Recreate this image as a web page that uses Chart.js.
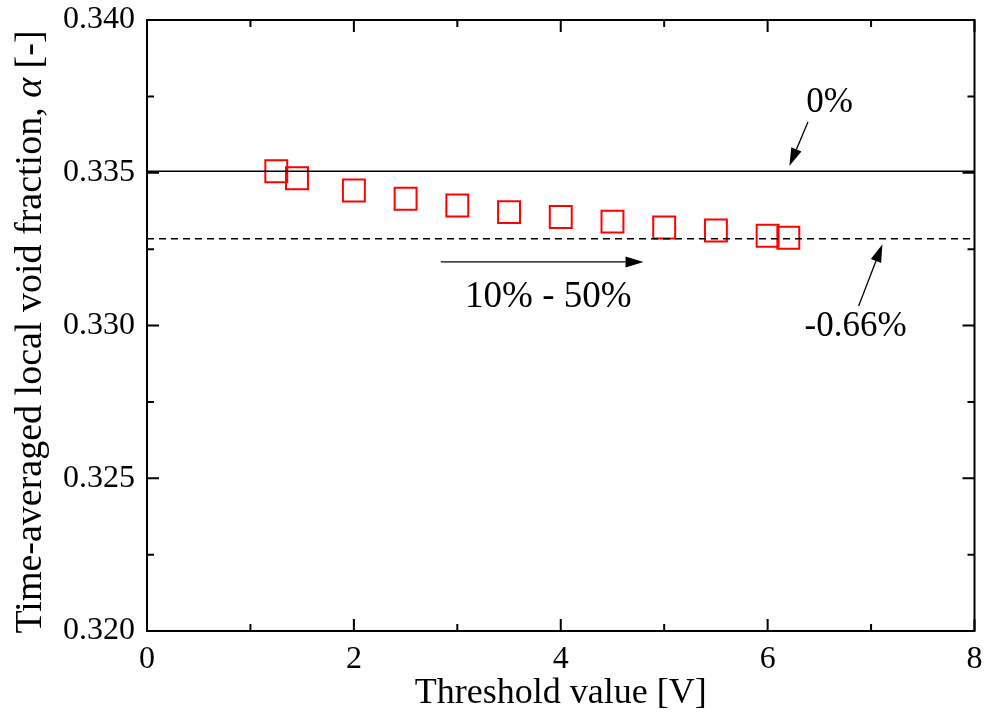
<!DOCTYPE html>
<html>
<head>
<meta charset="utf-8">
<script src="https://cdn.jsdelivr.net/npm/chart.js@4.4.1/dist/chart.umd.min.js"></script>
<style>
  body { margin: 0; background: #fff; }
  #wrap { width: 992px; height: 720px; }
</style>
</head>
<body>
<div id="wrap"><canvas id="myChart" width="992" height="720"></canvas></div>
<script>
// data
const thresholds = [1.25, 1.45, 2.0, 2.5, 3.0, 3.5, 4.0, 4.5, 5.0, 5.5, 6.0, 6.2];
const voidFraction = [0.33505, 0.33482, 0.33442, 0.33415, 0.33393, 0.33371, 0.33355, 0.33340, 0.33321, 0.33311, 0.33294, 0.33287];
const refValue = 0.33505;     // 0%
const lowValue = 0.33284;     // -0.66%
const xTicks = [0, 2, 4, 6, 8];
const yTicks = [0.320, 0.325, 0.330, 0.335, 0.340];

const serif = "'Liberation Serif', 'Times New Roman', serif";

// frame, inward ticks, x labels, titles and arrows
const decor = {
  id: 'decor',
  afterDraw(chart) {
    const ctx = chart.ctx;
    const a = chart.chartArea;
    const xs = chart.scales.x, ys = chart.scales.y;
    ctx.save();
    ctx.strokeStyle = '#000';
    ctx.lineWidth = 2;
    ctx.strokeRect(a.left, a.top, a.right - a.left, a.bottom - a.top);

    ctx.lineWidth = 2;
    ctx.beginPath();
    for (let v = 0; v <= 8; v += 1) {
      const px = xs.getPixelForValue(v);
      const len = v % 2 === 0 ? 12 : 7;
      ctx.moveTo(px, a.bottom); ctx.lineTo(px, a.bottom - len);
      ctx.moveTo(px, a.top); ctx.lineTo(px, a.top + len);
    }
    for (let i = 0; i <= 8; i++) {
      const v = 0.320 + i * 0.0025;
      const py = ys.getPixelForValue(v);
      const len = i % 2 === 0 ? 12 : 7;
      ctx.moveTo(a.left, py); ctx.lineTo(a.left + len, py);
      ctx.moveTo(a.right, py); ctx.lineTo(a.right - len, py);
    }
    ctx.stroke();

    // x tick labels
    ctx.fillStyle = '#000';
    ctx.font = '32px ' + serif;
    ctx.textAlign = 'center';
    ctx.textBaseline = 'middle';
    xTicks.forEach(v => ctx.fillText(String(v), xs.getPixelForValue(v), a.bottom + 29));

    // axis titles
    ctx.font = '36px ' + serif;
    ctx.fillText('Threshold value [V]', (a.left + a.right) / 2, 694);

    ctx.save();
    ctx.translate(31, 332);
    ctx.rotate(-Math.PI / 2);
    const p1 = 'Time-averaged local void fraction, ';
    const p2 = '\u03b1';
    const p3 = ' [-]';
    const fs = 38;
    ctx.font = fs + 'px ' + serif;
    const w1 = ctx.measureText(p1).width, w3 = ctx.measureText(p3).width;
    ctx.font = 'italic ' + fs + 'px ' + serif;
    const w2 = ctx.measureText(p2).width;
    let x0 = -(w1 + w2 + w3) / 2;
    ctx.textAlign = 'left';
    ctx.font = fs + 'px ' + serif;
    ctx.fillText(p1, x0, 0);
    ctx.font = 'italic ' + fs + 'px ' + serif;
    ctx.fillText(p2, x0 + w1, 0);
    ctx.font = fs + 'px ' + serif;
    ctx.fillText(p3, x0 + w1 + w2, 0);
    ctx.restore();

    // annotations
    function arrow(x1, y1, x2, y2) {
      const X1 = xs.getPixelForValue(x1), Y1 = ys.getPixelForValue(y1);
      const X2 = xs.getPixelForValue(x2), Y2 = ys.getPixelForValue(y2);
      const ang = Math.atan2(Y2 - Y1, X2 - X1);
      const hl = 18, hw = 5.5;
      ctx.lineWidth = 1.3;
      ctx.beginPath();
      ctx.moveTo(X1, Y1);
      ctx.lineTo(X2 - hl * Math.cos(ang), Y2 - hl * Math.sin(ang));
      ctx.stroke();
      ctx.beginPath();
      ctx.moveTo(X2, Y2);
      ctx.lineTo(X2 - hl * Math.cos(ang) + hw * Math.sin(ang), Y2 - hl * Math.sin(ang) - hw * Math.cos(ang));
      ctx.lineTo(X2 - hl * Math.cos(ang) - hw * Math.sin(ang), Y2 - hl * Math.sin(ang) + hw * Math.cos(ang));
      ctx.closePath();
      ctx.fill();
    }
    function label(t, x, y, size) {
      ctx.font = size + 'px ' + serif;
      ctx.textAlign = 'center';
      ctx.textBaseline = 'middle';
      ctx.fillText(t, xs.getPixelForValue(x), ys.getPixelForValue(y));
    }
    arrow(6.39, 0.33666, 6.21, 0.33522);
    label('0%', 6.60, 0.33728, 35);
    arrow(2.84, 0.33208, 4.80, 0.33208);
    label('10% - 50%', 3.88, 0.33093, 37);
    arrow(6.88, 0.33064, 7.11, 0.33266);
    label('-0.66%', 6.85, 0.32995, 35);
    ctx.restore();
  }
};

const ctx = document.getElementById('myChart').getContext('2d');
const chart = new Chart(ctx, {
  type: 'scatter',
  data: {
    datasets: [
      {
        label: '0%',
        type: 'line',
        data: [{x: 0, y: refValue}, {x: 8, y: refValue}],
        borderColor: '#000',
        borderWidth: 1.6,
        pointRadius: 0,
        fill: false
      },
      {
        label: '-0.66%',
        type: 'line',
        data: [{x: 0, y: lowValue}, {x: 8, y: lowValue}],
        borderColor: '#000',
        borderWidth: 1.6,
        borderDash: [7, 5],
        pointRadius: 0,
        fill: false
      },
      {
        label: 'alpha',
        data: thresholds.map((t, i) => ({x: t, y: voidFraction[i]})),
        pointStyle: 'rect',
        pointRadius: 15.5,
        pointBorderWidth: 2,
        pointBorderColor: '#ff0000',
        pointBackgroundColor: 'rgba(0,0,0,0)',
        showLine: false
      }
    ]
  },
  options: {
    responsive: false,
    animation: false,
    layout: { padding: { left: 0, right: 12, top: 20, bottom: 0 } },
    plugins: {
      legend: { display: false },
      tooltip: { enabled: false }
    },
    scales: {
      x: {
        type: 'linear',
        min: 0, max: 8,
        grid: { display: false, drawTicks: false },
        border: { display: false },
        afterBuildTicks: (s) => { s.ticks = xTicks.map(v => ({value: v})); },
        afterFit: (s) => { s.height = 89; },
        ticks: { display: false }
      },
      y: {
        type: 'linear',
        min: 0.320, max: 0.340,
        grid: { display: false, drawTicks: false },
        border: { display: false },
        afterBuildTicks: (s) => { s.ticks = yTicks.map(v => ({value: v})); },
        afterFit: (s) => { s.width = 147; s.paddingTop = 0; s.paddingBottom = 0; },
        ticks: {
          padding: 12,
          color: '#000',
          font: { family: serif, size: 32 },
          callback: (v) => Number(v).toFixed(3)
        }
      }
    }
  },
  plugins: [decor]
});
</script>
</body>
</html>
